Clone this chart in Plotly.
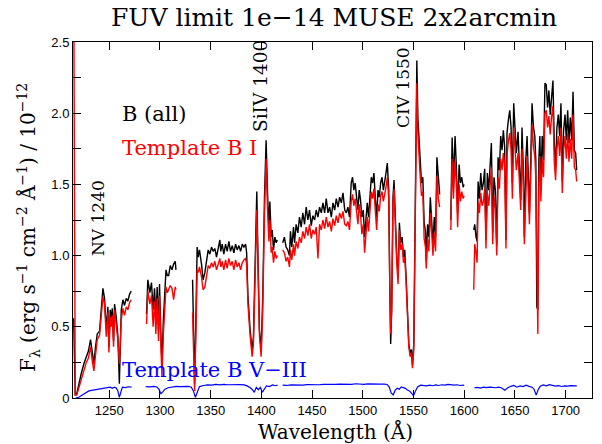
import plotly.graph_objects as go

# ---------------- data ----------------
# wavelength grid for the "B (all)" and "Template B I" spectra; None = gap
wave = [
    1215.0, 1215.8, 1216.5, 1218.0, 1220.0, 1222.4, 1225.0, 1227.4, 1229.5, 1231.6,
    1233.3, 1234.9, 1236.5, 1238.2, 1240.5, 1242.2, 1243.8, 1245.4, 1247.1, 1248.7,
    1249.7, 1251.0, 1252.0, 1253.0, 1254.3, 1255.3, 1256.9, 1258.6, 1260.0, 1261.9,
    1263.5, 1265.1, 1266.8, 1268.4, 1270.1, 1271.7, None,
    1286.8, 1288.1, 1290.1, 1291.7, 1293.3, 1294.7, 1296.0, 1297.3, 1298.6, 1299.6,
    1300.9, 1302.0, 1303.4, 1304.6, 1306.0, 1307.3, 1308.6, 1310.2, 1311.9, 1313.5,
    1315.1, 1315.8, None,
    1332.2, 1333.2, 1334.2, 1335.3, 1336.7, 1337.7, 1339.0, 1341.0, 1342.6, 1344.3,
    1345.9, 1347.6, 1349.2, 1350.9, 1352.5, 1354.1, 1355.8, 1357.4, 1359.1, 1360.0,
    1361.4, 1363.0, 1364.7, 1366.3, 1368.0, 1369.6, 1371.3, 1372.9, 1374.6, 1376.2,
    1377.9, 1379.5, 1381.2, 1382.8, 1384.5, 1385.5, 1386.8, 1388.9, 1390.9, 1392.2,
    1393.9, 1395.5, 1396.8, 1398.1, 1399.8, 1401.4, 1403.1, 1404.7, 1406.0, 1407.4,
    1408.4, 1409.7, 1410.7, 1412.0, 1413.3, 1414.7, 1415.7, None,
    1421.1, 1422.7, 1424.4, 1426.0, 1427.7, 1428.7, 1430.0, 1431.7, 1432.7, 1434.3,
    1436.0, 1437.6, 1439.3, 1440.9, 1442.6, 1444.2, 1445.9, 1447.5, 1449.2, 1450.8,
    1452.5, 1454.1, 1455.8, 1457.4, 1459.1, 1460.7, 1462.4, 1464.0, 1465.7, 1467.3,
    1469.0, 1470.6, 1472.3, 1473.9, 1475.6, 1477.2, 1478.9, 1480.5, 1482.2, 1483.8,
    1485.3, 1486.9, 1488.6, 1489.9, 1491.2, 1492.5, 1493.9, 1495.2, 1496.5, 1497.8,
    1499.1, 1500.5, 1501.8, 1503.1, 1504.4, 1505.7, 1507.1, 1508.4, 1509.7, 1511.0,
    1512.3, 1513.7, 1515.0, 1516.3, 1517.6, 1519.0, 1520.3, 1521.6, 1522.9, 1524.2,
    1525.6, 1526.6, 1527.5, 1528.5, 1529.8, 1530.8, 1532.2, 1533.5, 1534.8, 1536.1,
    1537.4, 1538.8, 1540.1, 1541.4, 1542.7, 1544.0, 1545.4, 1546.7, 1548.0, 1549.0,
    1550.3, 1551.3, 1552.3, 1553.3, 1554.3, 1555.2, 1556.6, 1557.9, 1559.2, 1560.5,
    1561.8, 1562.6, 1563.9, 1565.2, 1566.6, 1567.9, 1569.2, 1570.5, 1571.8, 1573.1,
    1574.5, 1575.8, None,
    1586.8, 1588.1, 1589.4, 1591.0, 1592.3, 1593.5, 1595.0, 1596.3, 1597.6, 1599.0,
    1599.8, None,
    1609.4, 1610.4, 1611.7, 1612.7, 1613.7, 1615.0, 1616.3, 1617.6, 1618.9, 1620.2,
    1621.5, 1622.8, 1624.2, 1625.5, 1626.8, 1628.1, 1629.4, 1630.7, 1632.1, 1633.4,
    1634.7, 1636.0, 1637.3, 1638.6, 1639.9, 1641.2, 1642.2, 1643.5, 1644.9, 1646.2,
    1647.5, 1648.8, 1650.1, 1651.4, 1653.1, 1654.4, 1655.7, 1657.0, 1658.3, 1659.3,
    1660.7, 1662.0, 1663.3, 1664.3, 1665.6, 1666.9, 1668.3, 1669.6, 1670.6, 1671.6,
    1672.6, 1673.6, 1674.6, 1675.6, 1676.9, 1678.2, 1679.6, 1680.9, 1682.2, 1683.5,
    1684.8, 1686.2, 1687.5, 1688.8, 1690.1, 1691.4, 1692.8, 1694.1, 1695.4, 1696.7,
    1698.0, 1699.4, 1700.7, 1702.0, 1703.3, 1704.6, 1706.0, 1707.3, 1708.6, 1709.9,
    1710.9,
]

flux_all = [
    0.56, 0.30, 0.02, 0.03, 0.10, 0.17, 0.24, 0.29, 0.33, 0.41,
    0.30, 0.24, 0.36, 0.45, 0.47, 0.62, 0.77, 0.70, 0.48, 0.64,
    0.36, 0.62, 0.55, 0.63, 0.40, 0.66, 0.57, 0.43, 0.10, 0.62,
    0.69, 0.65, 0.70, 0.68, 0.73, 0.75, None,
    0.59, 0.83, 0.74, 0.81, 0.62, 0.77, 0.55, 0.78, 0.48, 0.80,
    0.45, 0.24, 0.55, 0.70, 0.90, 0.86, 0.86, 0.93, 0.90, 0.94,
    0.96, 0.90, None,
    0.83, 0.40, 0.10, 0.50, 1.06, 0.99, 1.04, 0.94, 0.83, 0.88,
    0.97, 1.04, 1.01, 1.06, 1.03, 1.05, 0.99, 1.06, 1.11, 1.03,
    1.08, 1.01, 1.08, 1.03, 1.10, 1.03, 1.07, 1.02, 1.08, 1.04,
    1.07, 1.03, 1.08, 1.06, 1.08, 1.02, 0.71, 0.48, 0.34, 0.43,
    0.94, 1.45, 0.94, 0.48, 0.34, 0.71, 1.41, 1.81, 1.46, 1.20,
    1.38, 1.13, 1.18, 1.04, 1.13, 1.09, 1.11, None,
    1.09, 1.13, 1.06, 1.04, 1.00, 1.17, 1.06, 1.20, 1.09, 1.22,
    1.16, 1.27, 1.20, 1.30, 1.22, 1.34, 1.25, 1.32, 1.21, 1.28,
    1.25, 1.32, 1.27, 1.34, 1.30, 1.37, 1.30, 1.40, 1.30, 1.34,
    1.27, 1.37, 1.32, 1.40, 1.34, 1.41, 1.37, 1.44, 1.32, 1.30,
    1.34, 1.27, 1.51, 1.55, 1.46, 1.51, 1.41, 1.32, 1.46, 1.39,
    1.27, 1.32, 1.13, 1.23, 1.37, 1.27, 1.46, 1.55, 1.51, 1.58,
    1.41, 1.27, 1.46, 1.41, 1.51, 1.55, 1.46, 1.51, 1.58, 1.65,
    1.46, 0.80, 0.38, 0.62, 1.41, 1.53, 1.23, 0.99, 0.85, 1.23,
    1.09, 1.13, 0.99, 1.04, 0.85, 0.62, 0.38, 0.31, 0.34, 0.23,
    0.38, 1.04, 1.97, 2.37, 1.97, 1.83, 1.67, 1.51, 1.55, 1.23,
    1.17, 0.96, 1.22, 1.13, 1.41, 1.27, 1.08, 1.27, 1.13, 1.69,
    1.51, 1.43, None,
    1.25, 1.83, 1.52, 1.84, 1.62, 1.30, 1.64, 1.51, 1.55, 1.48,
    1.50, None,
    1.18, 1.22, 1.13, 1.10, 1.52, 1.40, 1.58, 1.46, 1.51, 1.61,
    1.11, 1.58, 1.46, 1.67, 1.79, 1.16, 1.55, 1.46, 1.07, 1.69,
    1.60, 1.84, 1.74, 1.88, 1.76, 1.11, 1.86, 1.95, 2.02, 1.90,
    1.51, 2.07, 1.85, 1.72, 1.87, 1.63, 1.39, 1.90, 1.60, 1.13,
    1.67, 1.84, 1.55, 1.30, 1.67, 2.07, 1.90, 1.84, 1.67, 0.64,
    0.62, 1.67, 1.84, 1.48, 1.84, 1.67, 2.21, 2.20, 2.04, 2.16,
    1.99, 2.14, 2.23, 1.79, 1.62, 1.90, 1.99, 1.84, 2.07, 1.52,
    1.88, 1.99, 1.81, 2.02, 1.79, 1.97, 1.81, 2.15, 1.74, 1.72,
    1.60,
]

flux_BI = [
    3.00, 1.20, 0.02, 0.02, 0.07, 0.14, 0.20, 0.25, 0.28, 0.36,
    0.26, 0.19, 0.30, 0.41, 0.44, 0.58, 0.71, 0.66, 0.43, 0.60,
    0.32, 0.57, 0.50, 0.58, 0.36, 0.62, 0.53, 0.40, 0.24, 0.55,
    0.63, 0.58, 0.64, 0.62, 0.67, 0.69, None,
    0.52, 0.75, 0.66, 0.72, 0.50, 0.68, 0.45, 0.70, 0.40, 0.72,
    0.38, 0.15, 0.45, 0.62, 0.78, 0.74, 0.76, 0.79, 0.77, 0.69,
    0.78, 0.76, None,
    0.60, 0.30, 0.05, 0.40, 0.90, 0.88, 0.92, 0.85, 0.76, 0.78,
    0.86, 0.93, 0.91, 0.95, 0.92, 0.96, 0.90, 0.95, 0.98, 0.92,
    0.96, 0.90, 0.97, 0.91, 0.98, 0.93, 0.96, 0.90, 0.97, 0.92,
    0.95, 0.90, 0.95, 0.97, 0.98, 0.94, 0.66, 0.44, 0.29, 0.38,
    0.85, 1.32, 0.88, 0.44, 0.29, 0.62, 1.30, 1.68, 1.35, 1.10,
    1.25, 1.02, 1.06, 0.95, 1.03, 0.98, 1.00, None,
    1.04, 1.02, 0.96, 0.99, 0.92, 1.04, 0.97, 1.08, 1.00, 1.10,
    1.05, 1.13, 1.09, 1.17, 1.12, 1.20, 1.14, 1.22, 1.12, 1.18,
    1.15, 1.20, 0.98, 1.22, 1.18, 1.25, 1.19, 1.27, 1.20, 1.24,
    1.17, 1.26, 1.21, 1.28, 1.23, 1.30, 1.26, 1.31, 1.22, 1.21,
    1.24, 1.18, 1.38, 1.43, 1.35, 1.40, 1.31, 1.22, 1.36, 1.29,
    1.15, 1.22, 1.02, 1.13, 1.27, 1.17, 1.36, 1.45, 1.40, 1.47,
    1.32, 1.18, 1.36, 1.31, 1.42, 1.45, 1.38, 1.42, 1.48, 1.55,
    1.40, 0.80, 0.45, 0.62, 1.36, 1.47, 1.18, 0.95, 0.80, 1.18,
    1.04, 1.08, 0.95, 0.99, 0.82, 0.60, 0.36, 0.29, 0.32, 0.21,
    0.34, 0.98, 1.85, 2.21, 1.86, 1.70, 1.56, 1.42, 1.45, 1.12,
    1.06, 0.91, 1.12, 1.03, 1.30, 1.17, 1.00, 1.16, 1.03, 1.56,
    1.40, 1.34, None,
    1.18, 1.68, 1.40, 1.66, 1.50, 1.20, 1.50, 1.38, 1.45, 1.40,
    1.42, None,
    0.76, 1.08, 1.02, 0.95, 1.38, 1.30, 1.44, 1.35, 1.38, 1.47,
    1.05, 1.44, 1.35, 1.52, 1.62, 1.08, 1.42, 1.33, 1.00, 1.55,
    1.47, 1.68, 1.60, 1.72, 1.62, 1.05, 1.70, 1.80, 1.86, 1.75,
    1.40, 1.90, 1.72, 1.60, 1.72, 1.52, 1.32, 1.75, 1.48, 1.08,
    1.52, 1.70, 1.42, 1.22, 1.55, 1.92, 1.76, 1.70, 1.55, 0.70,
    0.45, 1.50, 1.70, 1.38, 1.68, 1.55, 2.00, 2.02, 1.90, 1.98,
    1.85, 1.98, 2.05, 1.66, 1.53, 1.75, 1.84, 1.70, 1.90, 1.44,
    1.74, 1.84, 1.68, 1.86, 1.66, 1.82, 1.68, 1.99, 1.62, 1.60,
    1.52,
]

# "Template B V-III" spectrum (own wavelength grid, None = gap)
wave_V = [
    1217, 1220, 1223, 1226, 1230, 1234, 1238, 1242, 1246, 1249, 1251, 1253, 1255,
    1257, 1258.5, 1260, 1261.5, 1263, 1266, 1269, 1272, None,
    1286, 1290, 1294, 1297, 1299, 1301, 1303, 1305, 1308, 1312, 1316, 1320, 1324,
    1328, 1331, 1333, 1335, 1337, 1339, 1343, 1347, 1351, 1355, 1359, 1363, 1367,
    1371, 1375, 1379, 1383, 1386, 1389, 1391, 1393, 1395, 1397, 1399, 1401, 1403,
    1405, 1408, 1411, 1414, 1416, None,
    1421, 1425, 1429, 1433, 1437, 1441, 1445, 1449, 1453, 1457, 1461, 1465, 1469,
    1473, 1477, 1481, 1485, 1489, 1493, 1497, 1501, 1505, 1509, 1513, 1517, 1521,
    1524, 1526, 1528, 1530, 1532, 1534, 1536, 1538, 1540, 1542, 1544, 1546, 1548,
    1550, 1552, 1554, 1557, 1560, 1563, 1566, 1569, 1572, 1575, 1578, 1581, 1584,
    1587, 1590, 1593, 1596, 1599, 1600, None,
    1610, 1613, 1616, 1619, 1622, 1625, 1628, 1631, 1634, 1637, 1640, 1643, 1646,
    1649, 1652, 1655, 1658, 1661, 1664, 1667, 1669, 1671, 1673, 1675, 1678, 1681,
    1684, 1687, 1690, 1693, 1696, 1699, 1702, 1705, 1708, 1711,
]

flux_V = [
    0.000, 0.005, 0.020, 0.035, 0.050, 0.055, 0.060, 0.065, 0.070, 0.072, 0.076, 0.068, 0.076,
    0.070, 0.050, 0.005, 0.050, 0.076, 0.073, 0.079, 0.077, None,
    0.080, 0.078, 0.082, 0.077, 0.062, 0.030, 0.045, 0.062, 0.072, 0.078, 0.082, 0.080, 0.083,
    0.081, 0.076, 0.050, 0.005, 0.050, 0.080, 0.088, 0.092, 0.090, 0.095, 0.092, 0.096, 0.093,
    0.095, 0.092, 0.094, 0.092, 0.085, 0.072, 0.060, 0.040, 0.075, 0.058, 0.075, 0.040, 0.068,
    0.085, 0.080, 0.092, 0.086, 0.090, None,
    0.090, 0.088, 0.092, 0.090, 0.093, 0.091, 0.094, 0.092, 0.095, 0.093, 0.096, 0.094, 0.097,
    0.095, 0.098, 0.096, 0.098, 0.096, 0.100, 0.097, 0.096, 0.099, 0.097, 0.100, 0.097, 0.098,
    0.095, 0.078, 0.035, 0.022, 0.055, 0.068, 0.062, 0.078, 0.072, 0.068, 0.056, 0.050, 0.034,
    0.016, 0.050, 0.078, 0.090, 0.088, 0.085, 0.090, 0.086, 0.092, 0.088, 0.093, 0.090, 0.095,
    0.092, 0.090, 0.093, 0.088, 0.091, 0.088, None,
    0.072, 0.075, 0.070, 0.076, 0.073, 0.077, 0.074, 0.072, 0.076, 0.070, 0.055, 0.072, 0.082,
    0.088, 0.076, 0.085, 0.080, 0.090, 0.082, 0.076, 0.060, 0.020, 0.060, 0.082, 0.092, 0.086,
    0.094, 0.090, 0.083, 0.087, 0.081, 0.085, 0.083, 0.087, 0.084, 0.085,
]

y_tickvals = [0, 0.5, 1.0, 1.5, 2.0, 2.5]
y_ticktext = ["0", "0.5", "1.0", "1.5", "2.0", "2.5"]
x_tickvals = [1250, 1300, 1350, 1400, 1450, 1500, 1550, 1600, 1650, 1700]

SERIF = "DejaVu Serif"
SANS = "Liberation Sans"

fig = go.Figure()
fig.add_trace(go.Scatter(x=wave, y=flux_all, mode="lines", name="B (all)",
                         line=dict(color="black", width=1.4), connectgaps=False))
fig.add_trace(go.Scatter(x=wave, y=flux_BI, mode="lines", name="Template B I",
                         line=dict(color="#ff0000", width=1.4), connectgaps=False))
fig.add_trace(go.Scatter(x=wave_V, y=flux_V, mode="lines", name="Template B V-III",
                         line=dict(color="#0000ff", width=1.2), connectgaps=False))

W, H = 602, 444
L, R, T, B = 73, 10, 42, 46
pw, ph = W - L - R, H - T - B

def px(xp):
    return (xp - L) / pw

def py(yp):
    return (H - B - yp) / ph

annots = [
    dict(text="B (all)", x=px(120), y=py(114), xanchor="left", yanchor="middle",
         font=dict(family=SERIF, size=21, color="black")),
    dict(text="Template B I", x=px(120), y=py(148), xanchor="left", yanchor="middle",
         font=dict(family=SERIF, size=21, color="#ff0000")),
    dict(text="Template B V\u2212III", x=px(120), y=py(370), xanchor="left", yanchor="middle",
         font=dict(family=SERIF, size=21, color="#0000ff")),
    dict(text="NV 1240", x=px(98), y=py(218), textangle=-90, xanchor="center", yanchor="middle",
         font=dict(family=SERIF, size=17, color="black")),
    dict(text="SiIV 1400", x=px(261), y=py(86), textangle=-90, xanchor="center", yanchor="middle",
         font=dict(family=SERIF, size=18.5, color="black")),
    dict(text="CIV 1550", x=px(403), y=py(88), textangle=-90, xanchor="center", yanchor="middle",
         font=dict(family=SERIF, size=17, color="black")),
    dict(text="F<sub>\u03bb</sub> (erg s<sup>\u22121</sup> cm<sup>\u22122</sup> \u00c5<sup>\u22121</sup>) / 10<sup>\u221212</sup>",
         x=px(28), y=py(228), textangle=-90, xanchor="center", yanchor="middle",
         font=dict(family=SERIF, size=20, color="black")),
    dict(text="Wavelength (\u00c5)", x=px(335), y=py(432), xanchor="center", yanchor="middle",
         font=dict(family=SERIF, size=20, color="black")),
    dict(text="FUV limit 1e\u221214 MUSE 2x2arcmin", x=px(334), y=py(17), xanchor="center", yanchor="middle",
         font=dict(family=SERIF, size=25, color="black")),
]
for a in annots:
    a.update(xref="paper", yref="paper", showarrow=False)

fig.update_layout(
    width=W, height=H,
    margin=dict(l=L, r=R, t=T, b=B),
    paper_bgcolor="white", plot_bgcolor="white",
    showlegend=False,
    annotations=annots,
)
fig.update_xaxes(
    range=[1214.3, 1726], showgrid=False, zeroline=False,
    showline=True, linecolor="black", linewidth=1, mirror="ticks",
    ticks="inside", ticklen=8, tickcolor="black", tickwidth=1,
    tickvals=x_tickvals, tickfont=dict(family=SANS, size=13, color="black"),
)
fig.update_yaxes(
    range=[0, 2.5], showgrid=False, zeroline=False,
    showline=True, linecolor="black", linewidth=1, mirror="ticks",
    ticks="inside", ticklen=8, tickcolor="black", tickwidth=1,
    tickvals=y_tickvals, ticktext=y_ticktext,
    tickfont=dict(family=SANS, size=13, color="black"),
    minor=dict(dtick=0.25, ticks="inside", ticklen=8, tickcolor="black", tickwidth=1),
)

fig.write_html("out.html")
